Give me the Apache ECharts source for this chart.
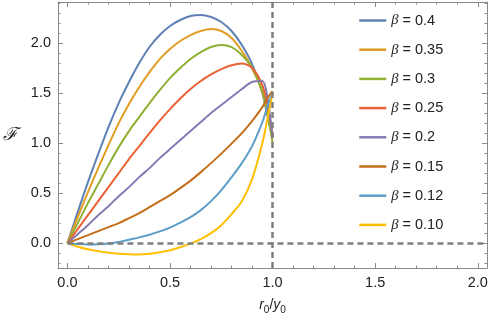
<!DOCTYPE html>
<html><head><meta charset="utf-8">
<script src="https://cdn.jsdelivr.net/npm/echarts@6/dist/echarts.min.js"></script>
<style>html,body{margin:0;padding:0;background:#fff}#c{width:491px;height:320px}</style>
</head><body><div id="c"></div>
<script>
const xs = [0, 0.05, 0.1, 0.15, 0.2, 0.25, 0.3, 0.35, 0.4, 0.45, 0.5, 0.55, 0.6, 0.65, 0.7, 0.75, 0.8, 0.85, 0.9, 0.95, 0.975, 1.0];
const betas = ['0.4', '0.35', '0.3', '0.25', '0.2', '0.15', '0.12', '0.10'];
const b040 = [0, 0.31, 0.61, 0.89, 1.16, 1.40, 1.61, 1.80, 1.96, 2.08, 2.17, 2.23, 2.27, 2.28, 2.26, 2.21, 2.12, 1.98, 1.79, 1.50, 1.27, 1.05];
const b035 = [0, 0.26, 0.51, 0.75, 0.98, 1.20, 1.39, 1.56, 1.71, 1.84, 1.94, 2.02, 2.08, 2.12, 2.14, 2.12, 2.05, 1.92, 1.75, 1.51, 1.30, 1.05];
const b030 = [0, 0.20, 0.40, 0.59, 0.78, 0.96, 1.12, 1.26, 1.40, 1.53, 1.65, 1.75, 1.84, 1.91, 1.96, 1.98, 1.96, 1.88, 1.75, 1.52, 1.30, 1.00];
const b025 = [0, 0.14, 0.28, 0.42, 0.56, 0.70, 0.84, 0.97, 1.10, 1.225, 1.34, 1.445, 1.54, 1.62, 1.686, 1.74, 1.778, 1.795, 1.75, 1.58, 1.38, 1.08];
const b020 = [0, 0.09, 0.18, 0.28, 0.37, 0.47, 0.56, 0.66, 0.75, 0.85, 0.94, 1.03, 1.12, 1.21, 1.30, 1.38, 1.46, 1.54, 1.61, 1.62, 1.45, 1.05];
const b015 = [0, 0.04, 0.08, 0.12, 0.16, 0.20, 0.25, 0.30, 0.36, 0.42, 0.48, 0.55, 0.625, 0.71, 0.80, 0.895, 0.995, 1.10, 1.22, 1.36, 1.45, 1.52];
const b012 = [0, -0.008, -0.012, -0.01, -0.002, 0.012, 0.035, 0.058, 0.085, 0.118, 0.156, 0.205, 0.26, 0.33, 0.42, 0.53, 0.66, 0.80, 0.97, 1.21, 1.37, 1.50];
const b010 = [0, -0.035, -0.06, -0.08, -0.095, -0.105, -0.11, -0.112, -0.105, -0.09, -0.07, -0.04, -0.005, 0.04, 0.10, 0.18, 0.29, 0.42, 0.64, 1.00, 1.24, 1.50];
const values = [b040, b035, b030, b025, b020, b015, b012, b010];
const colors = ['#5E81B5', '#E19C24', '#8FB032', '#EB6235', '#8778B3', '#C56E1A', '#5D9EC7', '#FFBF00'];
const xMajor = [0, 0.5, 1, 1.5, 2];
const xMinor = [0.1,0.2,0.3,0.4,0.6,0.7,0.8,0.9,1.1,1.2,1.3,1.4,1.6,1.7,1.8,1.9];
const yMajor = [0, 0.5, 1, 1.5, 2];
const yMinor = [-0.2,-0.1,0.1,0.2,0.3,0.4,0.6,0.7,0.8,0.9,1.1,1.2,1.3,1.4,1.6,1.7,1.8,1.9,2.1,2.2,2.3,2.4];
const xMin = -0.046, xMax = 2.045, yMin = -0.248, yMax = 2.41;

const frame = '#8a8a8a';
const FF = 'Liberation Sans, Arial, sans-serif';
function ax(pos, min, max, ticks, len, line, labels, extra) {
  return Object.assign({
    type: 'value', position: pos, min: min, max: max,
    axisLine: {show: line, onZero: false, lineStyle: {color: frame, width: 1}},
    axisTick: {show: true, inside: true, length: len, customValues: ticks, lineStyle: {color: frame, width: 1}},
    axisLabel: labels ? {show: true, customValues: ticks, color: '#222', fontSize: 14.5,
      fontFamily: FF, formatter: v => v.toFixed(1), margin: 7} : {show: false},
    splitLine: {show: false}
  }, extra || {});
}
const chart = echarts.init(document.getElementById('c'), null, {renderer: 'canvas'});
const series = values.map((v, i) => ({
  name: betas[i], type: 'line', symbol: 'none', smooth: 0.3,
  data: xs.map((x, j) => [x, v[j]]), z: 3,
  lineStyle: {color: colors[i], width: 2}, itemStyle: {color: colors[i]}
}));
series.push({
  name: 'ref', type: 'line', data: [], symbol: 'none', z: 2,
  markLine: {
    silent: true, symbol: 'none', label: {show: false},
    lineStyle: {color: '#7f7f7f', width: 2.5, type: [6, 4]},
    data: [
      [{coord: [0, 0]}, {coord: [xMax, 0]}],
      [{coord: [1, yMin]}, {coord: [1, yMax]}]
    ]
  }
});
chart.setOption({
  animation: false,
  color: colors,
  grid: {left: 52, right: 4, top: 2, bottom: 50},
  xAxis: [
    ax('bottom', xMin, xMax, xMajor, 5, true, true, {
      name: '{i|r}{s|0}{n|/}{i|y}{s|0}', nameLocation: 'middle', nameGap: 30,
      nameTextStyle: {rich: {
        i: {fontStyle: 'italic', fontSize: 14, color: '#222', fontFamily: FF, verticalAlign: 'top'},
        n: {fontSize: 14, color: '#222', fontFamily: FF, verticalAlign: 'top'},
        s: {fontSize: 10, color: '#222', fontFamily: FF, padding: [7, 0, 0, 0], verticalAlign: 'top'}
      }}
    }),
    ax('bottom', xMin, xMax, xMinor, 2.5, false, false),
    ax('top', xMin, xMax, xMajor, 5, true, false),
    ax('top', xMin, xMax, xMinor, 2.5, false, false)
  ],
  yAxis: [
    ax('left', yMin, yMax, yMajor, 5, true, true, {
      name: 'ℱ', nameLocation: 'middle', nameRotate: 0, nameGap: 40,
      nameTextStyle: {fontSize: 18, color: '#222', fontStyle: 'italic', fontFamily: 'DejaVu Serif, serif', padding: [18, 0, 0, 0]}
    }),
    ax('left', yMin, yMax, yMinor, 2.5, false, false),
    ax('right', yMin, yMax, yMajor, 5, true, false),
    ax('right', yMin, yMax, yMinor, 2.5, false, false)
  ],
  legend: {
    data: betas, orient: 'vertical', left: 353, top: 8,
    itemWidth: 27, itemHeight: 14, itemGap: 14.2,
    formatter: n => '{b|β} = ' + n,
    textStyle: {fontSize: 14.5, color: '#222', lineHeight: 14, fontFamily: FF,
      rich: {b: {fontStyle: 'italic', fontSize: 14.5, lineHeight: 14, color: '#222', fontFamily: 'Liberation Serif, serif'}}},
    itemStyle: {opacity: 0, borderWidth: 0},
    lineStyle: {width: 2.5}
  },
  series: series
});
</script></body></html>
